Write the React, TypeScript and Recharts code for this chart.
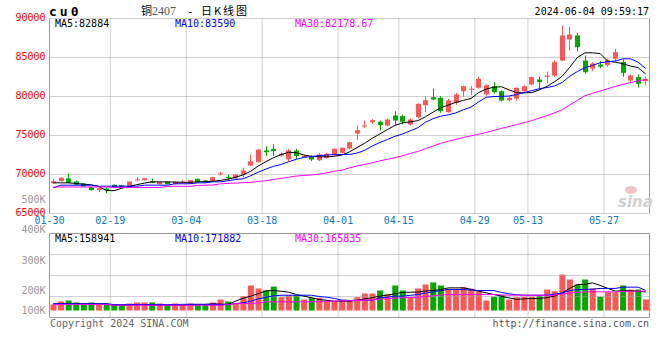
import React from "react";
import {
  ComposedChart,
  Bar,
  Line,
  XAxis,
  YAxis,
  CartesianGrid,
  ReferenceLine,
  Cell,
} from "recharts";

const DATES = [
  "01-30", "01-31", "02-01", "02-02", "02-05", "02-06", "02-07", "02-08",
  "02-19", "02-20", "02-21", "02-22", "02-23", "02-26", "02-27", "02-28", "02-29", "03-01",
  "03-04", "03-05", "03-06", "03-07", "03-08", "03-11", "03-12", "03-13", "03-14", "03-15",
  "03-18", "03-19", "03-20", "03-21", "03-22", "03-25", "03-26", "03-27", "03-28", "03-29",
  "04-01", "04-02", "04-03", "04-08", "04-09", "04-10", "04-11", "04-12",
  "04-15", "04-16", "04-17", "04-18", "04-19", "04-22", "04-23", "04-24", "04-25", "04-26",
  "04-29", "04-30", "05-06", "05-07", "05-08", "05-09", "05-10",
  "05-13", "05-14", "05-15", "05-16", "05-17", "05-20", "05-21", "05-22", "05-23", "05-24",
  "05-27", "05-28", "05-29", "05-30", "05-31", "06-03",
];
const TICK_DATES = ["01-30", "02-19", "03-04", "03-18", "04-01", "04-15", "04-29", "05-13", "05-27"];

const OPEN = [
  68880, 69140, 69490, 69100, 68850, 68370, 67990, 68200, 68680, 68630,
  68460, 69330, 69270, 69140, 68760, 69060, 68760, 69040, 68810, 69450,
  69230, 69190, 70100, 69700, 69490, 70000, 71150, 71580, 73080, 73290,
  72440, 71960, 73080, 72220, 72270, 71830, 72140, 72480, 72780, 73330,
  75250, 76190, 76700, 76760, 76280, 77560, 77480, 76410, 77350, 78880,
  79910, 79830, 77990, 79190, 80680, 80940, 81120, 80260, 81320, 80680,
  79530, 79740, 80680, 81540, 82180, 82520, 82690, 84610, 87310, 87820,
  84610, 83590, 84090, 84010, 84840, 84400, 82050, 82480, 81960,
];
const HIGH = [
  69450, 69650, 70130, 69230, 68900, 68400, 68280, 68370, 68720, 68680,
  69130, 69650, 69560, 69490, 69100, 69100, 69100, 69270, 69300, 69480,
  69260, 69700, 70340, 69960, 70050, 70860, 72560, 73250, 73630, 73890,
  72820, 73300, 73270, 72500, 72480, 72770, 72800, 73350, 73480, 74200,
  76280, 76920, 77090, 76920, 77180, 78120, 77690, 77180, 79100, 80040,
  81020, 80040, 79700, 80450, 81390, 81310, 82520, 81580, 81830, 80810,
  79960, 81150, 81450, 82560, 82520, 83200, 84610, 89100, 88930, 88160,
  85250, 84400, 84530, 84820, 86110, 84740, 82820, 82820, 82560,
];
const LOW = [
  68810, 69100, 68850, 68650, 68420, 67950, 67730, 67600, 68330, 68400,
  68440, 69100, 69230, 68900, 68720, 68720, 68720, 68810, 68780, 68980,
  68940, 69150, 69870, 69320, 69450, 69620, 71080, 71550, 72350, 72350,
  72250, 71700, 71960, 72150, 71710, 71700, 72000, 72400, 72700, 73200,
  74400, 75970, 76500, 75640, 76150, 76280, 76440, 76280, 77200, 77960,
  79530, 77910, 77910, 78930, 79960, 80190, 81000, 80130, 80390, 79360,
  79400, 79490, 80550, 81450, 80900, 81700, 82520, 84540, 85950, 85770,
  82900, 83240, 83660, 83830, 84540, 82520, 81700, 81150, 81450,
];
const CLOSE = [
  69140, 69580, 68940, 68680, 68460, 67990, 68240, 68000, 68370, 68420,
  69100, 69380, 69520, 68940, 69060, 68760, 69060, 69080, 69270, 69010,
  68970, 69650, 70150, 69580, 70000, 70510, 71700, 73200, 72860, 72990,
  72650, 73100, 72350, 72400, 71920, 72560, 72650, 73300, 73420, 74140,
  75680, 76280, 76960, 76320, 77050, 76920, 76760, 77050, 79060, 79530,
  79620, 78120, 79490, 80260, 81320, 81000, 82270, 81450, 80550, 79490,
  79830, 81110, 81320, 82480, 81830, 82690, 84400, 87820, 87950, 86320,
  83110, 84230, 83830, 84650, 85680, 83030, 82690, 81630, 82270,
];
const MA5 = [
  68930, 68930, 68930, 68850, 68760, 68680, 68460, 67950, 67920, 68240,
  68450, 68700, 68900, 69060, 69060, 69060, 69030, 69000, 69000, 69050,
  69100, 69140, 69250, 69400, 69650, 69950, 70420, 71100, 71650, 72150,
  72560, 72860, 72800, 72500, 72330, 72270, 72270, 72330, 72500, 72900,
  73450, 74000, 74650, 75200, 75770, 76300, 76620, 76750, 76900, 77400,
  78000, 78550, 78900, 79250, 79500, 79750, 80500, 80950, 81200, 81250,
  80850, 80500, 80470, 80500, 80850, 81300, 81900, 82600, 83750, 85000,
  85600, 85600, 85500, 84520, 84400, 84200, 83900, 83700, 82884,
];
const MA10 = [
  68300, 68630, 68630, 68630, 68630, 68630, 68500, 68500, 68500, 68500,
  68500, 68500, 68630, 68630, 68630, 68630, 68810, 68810, 68810, 68930,
  68930, 69060, 69060, 69200, 69360, 69450, 69850, 70300, 70700, 71050,
  71280, 71650, 71950, 72200, 72300, 72420, 72500, 72560, 72560, 72560,
  72750, 73100, 73650, 74100, 74500, 74900, 75200, 75600, 76000, 76700,
  77150, 77470, 77650, 77900, 78300, 78650, 79300, 79900, 80000, 80020,
  80060, 80250, 80500, 80750, 81000, 81150, 81350, 81800, 82600, 83200,
  83700, 84000, 84320, 84450, 84550, 84830, 84830, 84400, 83590,
];
const MA30 = [
  68400, 68400, 68400, 68400, 68400, 68400, 68400, 68400, 68330, 68330,
  68330, 68330, 68330, 68330, 68330, 68480, 68480, 68480, 68480, 68600,
  68620, 68650, 68800, 68870, 68900, 68950, 69000, 69100, 69200, 69360,
  69500, 69650, 69800, 69880, 69950, 70050, 70200, 70420, 70550, 70850,
  71100, 71300, 71500, 71750, 71950, 72150, 72400, 72700, 72950, 73300,
  73650, 74000, 74250, 74500, 74750, 74950, 75150, 75400, 75650, 75900,
  76150, 76400, 76650, 76900, 77250, 77550, 77900, 78300, 78900, 79500,
  80100, 80400, 80700, 81000, 81300, 81550, 81800, 82000, 82179,
];

// volume, thousands of lots
const VOLUME_K = [
  51, 77, 86, 68, 49, 68, 49, 60, 51, 51,
  60, 68, 68, 68, 60, 49, 60, 51, 60, 51,
  49, 68, 94, 77, 57, 123, 214, 189, 171, 206,
  114, 131, 131, 94, 109, 109, 86, 80, 86, 86,
  114, 146, 146, 171, 137, 214, 171, 114, 189, 223,
  240, 214, 186, 186, 200, 186, 166, 86, 117, 131,
  94, 114, 117, 117, 131, 180, 166, 309, 266, 223,
  266, 189, 117, 157, 157, 214, 180, 180, 94,
];
const VOL_MA5 = [
  57, 57, 57, 57, 57, 57, 57, 57, 45, 45,
  45, 51, 51, 45, 45, 45, 45, 45, 52, 52,
  52, 57, 55, 52, 80, 105, 123, 145, 168, 171,
  165, 157, 137, 123, 109, 94, 88, 80, 80, 80,
  86, 100, 110, 123, 133, 143, 155, 157, 157, 168,
  172, 178, 194, 194, 194, 182, 166, 151, 137, 123,
  108, 96, 100, 103, 103, 110, 123, 150, 190, 223,
  223, 237, 215, 190, 166, 168, 170, 165, 159,
];
const VOL_MA10 = [
  57, 57, 57, 57, 57, 57, 57, 57, 51, 51,
  51, 51, 51, 51, 51, 51, 51, 53, 53, 53,
  53, 53, 51, 52, 60, 66, 80, 100, 114, 125,
  131, 131, 131, 131, 131, 120, 114, 103, 90, 86,
  88, 88, 88, 109, 115, 123, 123, 130, 137, 150,
  160, 170, 180, 180, 180, 175, 171, 171, 171, 155,
  143, 135, 131, 131, 131, 131, 140, 151, 170, 180,
  180, 183, 189, 189, 189, 200, 200, 200, 172,
];
const VOL_MA30 = [
  51, 51, 51, 51, 51, 51, 51, 51, 45, 45,
  45, 45, 45, 45, 45, 45, 45, 45, 45, 45,
  45, 45, 45, 50, 60, 60, 60, 65, 74, 74,
  74, 74, 74, 74, 74, 76, 78, 80, 82, 84,
  86, 88, 92, 98, 103, 106, 109, 112, 114, 120,
  126, 132, 137, 137, 137, 137, 137, 137, 137, 133,
  131, 131, 131, 131, 131, 131, 131, 142, 151, 155,
  160, 160, 160, 160, 160, 163, 165, 166, 166,
];

const PRICE_TICKS = [65000, 70000, 75000, 80000, 85000, 90000];
const VOL_TICKS = [100, 200, 300, 400, 500];
const VOL_GRID = [120, 300, 480];

const UP = "#ff5555";
const DOWN = "#00a800";
const GRID = "#a0a0a0";
const FRAME = "#999999";
const MONO = "'DejaVu Sans Mono', monospace";
const BAND = 600 / DATES.length;
// volume chart svg starts 190px down the page; last label sits just above its frame
const VOL_LABEL_MAX_Y = 124;

const rows = DATES.map((date, i) => ({
  date,
  open: OPEN[i],
  high: HIGH[i],
  low: LOW[i],
  close: CLOSE[i],
  vol: VOLUME_K[i],
  ma5: MA5[i],
  ma10: MA10[i],
  ma30: MA30[i],
  vma5: VOL_MA5[i],
  vma10: VOL_MA10[i],
  vma30: VOL_MA30[i],
}));

function Candle(props: any) {
  const { x, y, width, height, payload } = props;
  const top = Math.min(y, y + height);
  const bot = Math.max(y, y + height);
  const span = payload.high - payload.low || 1;
  const py = (v: number) => bot - ((v - payload.low) / span) * (bot - top);
  const color = payload.close >= payload.open ? UP : DOWN;
  const cx = Math.floor(x + width / 2) + 0.5;
  const bTop = py(Math.max(payload.open, payload.close));
  const bBot = py(Math.min(payload.open, payload.close));
  return (
    <g>
      <line x1={cx} x2={cx} y1={top} y2={bot} stroke={color} strokeWidth={1} />
      <rect x={cx - 2.5} y={bTop} width={5} height={Math.max(bBot - bTop, 1)} fill={color} />
    </g>
  );
}

function PriceTick(p: any) {
  return (
    <text x={p.x} y={p.y + 2} textAnchor="end" fill="#ff0000" fontSize={10} fontFamily={MONO}>
      {p.payload.value}
    </text>
  );
}

function VolTick(p: any) {
  return (
    <text
      x={p.x}
      y={Math.min(p.y, VOL_LABEL_MAX_Y)}
      textAnchor="end"
      fill="#999"
      fontSize={10}
      fontFamily={MONO}
    >
      {p.payload.value + "K"}
    </text>
  );
}

function DateTick(p: any) {
  if (!TICK_DATES.includes(p.payload.value)) return <g />;
  return (
    <text x={p.x - BAND / 2} y={p.y + 10.5} textAnchor="middle" fill="#0a78c8" fontSize={10} fontFamily={MONO}>
      {p.payload.value}
    </text>
  );
}

export default function App() {
  return (
    <div style={{ position: "absolute", left: 0, top: 0, width: 660, height: 360, background: "#fff" }}>
      <div style={{ position: "absolute", left: 0, top: 0 }}>
        <ComposedChart width={660} height={232} data={rows} margin={{ top: 18.5, right: 10.5, bottom: 0.5, left: 0 }}>
          <CartesianGrid vertical={false} stroke={GRID} strokeDasharray="1 1" />
          {TICK_DATES.slice(1).map((d) => (
            <ReferenceLine key={d} x={d} position="start" stroke={GRID} strokeDasharray="1 1" />
          ))}
          <ReferenceLine x={DATES[DATES.length - 1]} position="end" stroke={FRAME} />
          <XAxis
            dataKey="date"
            interval={0}
            height={18}
            tickSize={0}
            tickMargin={0}
            axisLine={false}
            tickLine={false}
            tick={DateTick}
          />
          <YAxis
            domain={[65000, 90000]}
            ticks={PRICE_TICKS}
            interval={0}
            width={49.5}
            tickSize={0}
            tickMargin={4}
            tickLine={false}
            axisLine={{ stroke: FRAME }}
            tick={PriceTick}
            allowDataOverflow
          />
          <Bar
            dataKey={(d: any) => [d.low, d.high]}
            barSize={6}
            shape={(p: any) => <Candle {...p} />}
            isAnimationActive={false}
          />
          <Line dataKey="ma5" stroke="#000000" strokeWidth={1} dot={false} isAnimationActive={false} />
          <Line dataKey="ma10" stroke="#0000ff" strokeWidth={1} dot={false} isAnimationActive={false} />
          <Line dataKey="ma30" stroke="#ff00ff" strokeWidth={1} dot={false} isAnimationActive={false} />
        </ComposedChart>
      </div>

      <div style={{ position: "absolute", left: 0, top: 190 }}>
        <ComposedChart width={660} height={130} data={rows} margin={{ top: 43.5, right: 10.5, bottom: 2.5, left: 0 }}>
          <XAxis dataKey="date" hide />
          <YAxis yAxisId="v" hide domain={[-60, 660]} allowDataOverflow />
          <YAxis
            yAxisId="lbl"
            domain={[122.44, 399.67]}
            ticks={VOL_TICKS}
            interval={0}
            width={49.5}
            tickSize={0}
            tickMargin={4}
            tickLine={false}
            axisLine={{ stroke: FRAME }}
            tick={VolTick}
            allowDataOverflow
          />
          {VOL_GRID.map((v) => (
            <ReferenceLine key={v} yAxisId="v" y={v} stroke={GRID} strokeDasharray="1 1" />
          ))}
          {TICK_DATES.slice(1).map((d) => (
            <ReferenceLine key={d} yAxisId="v" x={d} position="start" stroke={GRID} strokeDasharray="1 1" />
          ))}
          <ReferenceLine yAxisId="v" y={660} stroke={FRAME} />
          <ReferenceLine yAxisId="v" y={-60} stroke={FRAME} />
          <ReferenceLine yAxisId="v" x={DATES[DATES.length - 1]} position="end" stroke={FRAME} />
          <Bar yAxisId="v" dataKey="vol" barSize={6} isAnimationActive={false}>
            {rows.map((r) => (
              <Cell key={r.date} fill={r.close >= r.open ? UP : DOWN} />
            ))}
          </Bar>
          <Line yAxisId="v" dataKey="vma5" stroke="#000000" strokeWidth={1} dot={false} isAnimationActive={false} />
          <Line yAxisId="v" dataKey="vma10" stroke="#0000ff" strokeWidth={1} dot={false} isAnimationActive={false} />
          <Line yAxisId="v" dataKey="vma30" stroke="#ff00ff" strokeWidth={1} dot={false} isAnimationActive={false} />
        </ComposedChart>
      </div>

      <svg
        width={660}
        height={360}
        style={{ position: "absolute", left: 0, top: 0, pointerEvents: "none" }}
      >
        <text x={49} y={16} fontFamily={MONO} fontWeight="bold" fontSize={13} letterSpacing={3} fill="#000">
          cu0
        </text>
        <text y={15} fill="#000">
          <tspan x={141} fontFamily="'Noto Sans CJK SC'" fontSize={11}>铜</tspan>
          <tspan x={152} fontFamily="'Liberation Serif'" fontSize={12} fill="#555">2407</tspan>
          <tspan x={187} fontFamily={MONO} fontSize={11}>-</tspan>
          <tspan x={201} fontFamily="'Noto Sans CJK SC'" fontSize={11} letterSpacing={2}>日K线图</tspan>
        </text>
        <text x={649} y={15} textAnchor="end" fontFamily={MONO} fontSize={10} fill="#000">
          2024-06-04 09:59:17
        </text>

        <text y={27} fontFamily={MONO} fontSize={10}>
          <tspan x={55} fill="#000">MA5:82884</tspan>
          <tspan x={175} fill="#0000ff">MA10:83590</tspan>
          <tspan x={295} fill="#ff00ff">MA30:82178.67</tspan>
        </text>
        <text y={242} fontFamily={MONO} fontSize={10}>
          <tspan x={55} fill="#000">MA5:158941</tspan>
          <tspan x={175} fill="#0000ff">MA10:171882</tspan>
          <tspan x={295} fill="#ff00ff">MA30:165835</tspan>
        </text>

        <ellipse cx={631} cy={190} rx={6} ry={4} fill="#f3c4c4" />
        <text x={618} y={207} fontFamily="'DejaVu Sans'" fontStyle="italic" fontWeight="bold" fontSize={15} fill="#d0d0d0">
          sina
        </text>

        <text x={50} y={327} fontFamily={MONO} fontSize={10} fill="#666">
          Copyright 2024 SINA.COM
        </text>
        <text x={649} y={327} textAnchor="end" fontFamily={MONO} fontSize={10} fill="#555">
          http://finance.sina.com.cn
        </text>
      </svg>
    </div>
  );
}
